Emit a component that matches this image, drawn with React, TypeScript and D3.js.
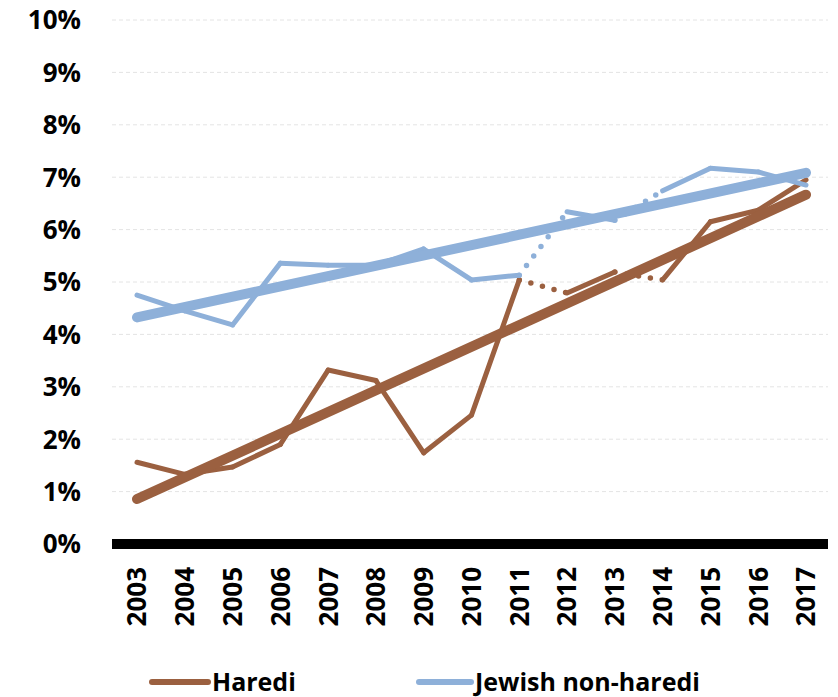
import * as d3 from "d3"

const years = ["2003", "2004", "2005", "2006", "2007", "2008", "2009", "2010", "2011", "2012", "2013", "2014", "2015", "2016", "2017"]
const haredi = [1.56, 1.33, 1.47, 1.9, 3.32, 3.12, 1.74, 2.46, 5.04, 4.79, 5.19, 5.04, 6.15, 6.37, 6.95]
const nonHaredi = [4.75, 4.45, 4.18, 5.36, 5.32, 5.32, 5.63, 5.04, 5.13, 6.34, 6.18, 6.74, 7.17, 7.1, 6.85]
// segments starting at these years are drawn dotted
const dottedStarts = ["2011", "2013"]
const yTicks = [0, 1, 2, 3, 4, 5, 6, 7, 8, 9, 10]

const BROWN = "#9b6040"
const BLUE = "#8eb0d9"
const FONT = "'Open Sans', 'Noto Sans', sans-serif"

const W = 838
const H = 697

function trend(vals: number[]) {
  const n = vals.length
  const xs = vals.map((_, i) => i)
  const mx = d3.mean(xs) as number
  const my = d3.mean(vals) as number
  const sxy = d3.sum(xs, (x, i) => (x - mx) * (vals[i] - my))
  const sxx = d3.sum(xs, (x) => (x - mx) * (x - mx))
  const b = sxy / sxx
  const a = my - b * mx
  return [a, a + b * (n - 1)]
}

export default function App() {
  const x = d3.scalePoint<string>().domain(years).range([137, 806])
  const y = d3.scaleLinear().domain([0, 10]).range([544, 20])
  const line = d3
    .line<[string, number]>()
    .x((d) => x(d[0]) as number)
    .y((d) => y(d[1]))

  const series = [
    { name: "Haredi", vals: haredi, color: BROWN },
    { name: "Jewish non-haredi", vals: nonHaredi, color: BLUE },
  ]

  return (
    <svg width={W} height={H} style={{ position: "absolute", left: 0, top: 0, background: "#fff" }}>
      {/* gridlines */}
      {yTicks.slice(1).map((t) => (
        <line key={t} x1={112} x2={828} y1={y(t)} y2={y(t)} stroke="#e4e4e4" strokeWidth={1} strokeDasharray="4 3" />
      ))}
      {/* y labels */}
      {yTicks.map((t) => (
        <text key={t} x={81} y={y(t)} dy="0.36em" textAnchor="end" fontFamily={FONT} fontWeight="bold" fontSize={26} fill="#000">
          {t}%
        </text>
      ))}
      {/* data lines */}
      {series.map((s) =>
        years.slice(0, -1).map((yr, i) => {
          const dotted = dottedStarts.includes(yr)
          const d = line([
            [yr, s.vals[i]],
            [years[i + 1], s.vals[i + 1]],
          ]) as string
          return (
            <path
              key={s.name + yr}
              d={d}
              fill="none"
              stroke={s.color}
              strokeWidth={dotted ? 5.5 : 5}
              strokeLinecap="round"
              strokeLinejoin="round"
              strokeDasharray={dotted ? "0 12" : undefined}
            />
          )
        })
      )}
      {/* trend lines */}
      {series.map((s) => {
        const [a, b] = trend(s.vals)
        return (
          <path
            key={s.name + "trend"}
            d={line([
              [years[0], a],
              [years[years.length - 1], b],
            ]) as string}
            fill="none"
            stroke={s.color}
            strokeWidth={10}
            strokeLinecap="round"
          />
        )
      })}
      {/* x axis */}
      <line x1={112} x2={828} y1={544} y2={544} stroke="#000" strokeWidth={10} />
      {years.map((yr) => (
        <text
          key={yr}
          transform={`translate(${x(yr)},567) rotate(-90)`}
          dy="0.36em"
          textAnchor="end"
          fontFamily={FONT}
          fontWeight="bold"
          fontSize={26}
          fill="#000"
        >
          {yr}
        </text>
      ))}
      {/* legend */}
      <line x1={152} x2={208} y1={682} y2={682} stroke={BROWN} strokeWidth={6} strokeLinecap="round" />
      <text x={212} y={682} dy="0.36em" fontFamily={FONT} fontWeight="bold" fontSize={25} fill="#000">
        Haredi
      </text>
      <line x1={419} x2={471} y1={682} y2={682} stroke={BLUE} strokeWidth={6} strokeLinecap="round" />
      <text x={475} y={682} dy="0.36em" fontFamily={FONT} fontWeight="bold" fontSize={25} fill="#000">
        Jewish non-haredi
      </text>
    </svg>
  )
}
